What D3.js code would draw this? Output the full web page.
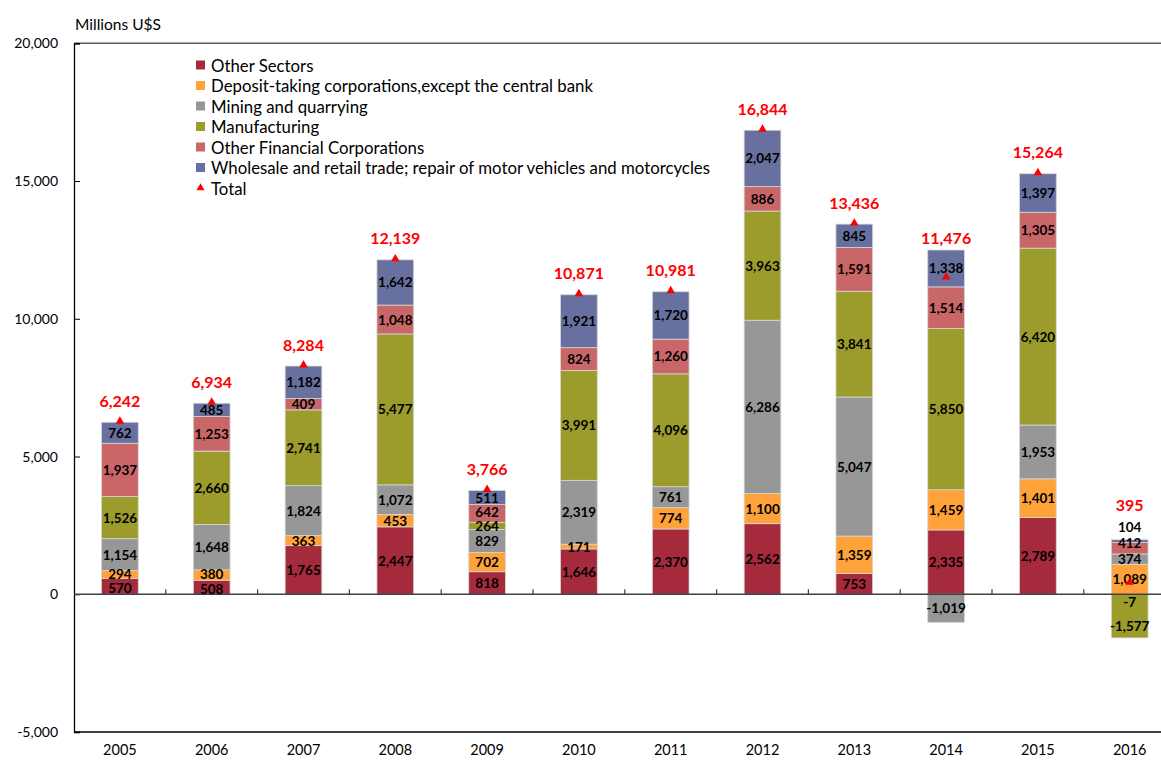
<!DOCTYPE html>
<html>
<head>
<meta charset="utf-8">
<script src="https://cdn.jsdelivr.net/npm/d3@7"></script>
<style>
  html, body { margin: 0; padding: 0; background: #fff; }
  svg { display: block; font-family: Lato, "Open Sans", sans-serif; }
</style>
</head>
<body>
<svg id="chart" width="1161" height="760"></svg>
<script>
// ---------------- DATA ----------------
const years = ["2005","2006","2007","2008","2009","2010","2011","2012","2013","2014","2015","2016"];
const seriesNames = [
  "Other Sectors",
  "Deposit-taking corporations,except the central bank",
  "Mining and quarrying",
  "Manufacturing",
  "Other Financial Corporations",
  "Wholesale and retail trade; repair of motor vehicles and motorcycles"
];
const otherSectors   = [570, 508, 1765, 2447, 818, 1646, 2370, 2562, 753, 2335, 2789, -7];
const depositTaking  = [294, 380, 363, 453, 702, 171, 774, 1100, 1359, 1459, 1401, 1089];
const mining         = [1154, 1648, 1824, 1072, 829, 2319, 761, 6286, 5047, -1019, 1953, 374];
const manufacturing  = [1526, 2660, 2741, 5477, 264, 3991, 4096, 3963, 3841, 5850, 6420, -1577];
const otherFinancial = [1937, 1253, 409, 1048, 642, 824, 1260, 886, 1591, 1514, 1305, 412];
const wholesale      = [762, 485, 1182, 1642, 511, 1921, 1720, 2047, 845, 1338, 1397, 104];
const totals         = [6242, 6934, 8284, 12139, 3766, 10871, 10981, 16844, 13436, 11476, 15264, 395];
const yTicks         = [-5000, 0, 5000, 10000, 15000, 20000];
const totalName = "Total";

(function () {
// ---------------- STYLE ----------------
const colors = ["#A52B3C", "#FFA23A", "#979797", "#9C9C2C", "#C96768", "#67709F"];
// manual label nudges (pixels) to avoid overlaps, as in the original
const labelNudge = { "2016|5": -14, "2016|4": -5, "2016|0": 8, "2016|3": 10,
                     "2005|0": 1.5, "2005|1": -1, "2006|0": 1.5, "2006|1": -1, "2009|4": -1.5, "2009|3": 0.5 };
const totalNudge = { "2016": -22 };

const seriesArrays = [otherSectors, depositTaking, mining, manufacturing, otherFinancial, wholesale];
const rows = years.map((yr, i) => {
  const r = { year: yr };
  seriesArrays.forEach((arr, k) => r[k] = arr[i]);
  return r;
});

const svg = d3.select("#chart");
const pLeft = 74, pRight = 1175.6, pTop = 43.3, pBottom = 732;

const x = d3.scaleBand().domain(years).range([pLeft, pRight]).paddingInner(0.6).paddingOuter(0.3);
const y = d3.scaleLinear().domain([-5000, 20000]).range([pBottom, pTop]);

const stack = d3.stack().keys(d3.range(6)).offset(d3.stackOffsetDiverging);
const stacked = stack(rows);

const locale = d3.formatLocale({ decimal: ".", thousands: ",", grouping: [3], currency: ["$", ""], minus: "-" });
const fmt = locale.format(",");

// frame top line
svg.append("line").attr("x1", pLeft).attr("x2", 1161).attr("y1", pTop).attr("y2", pTop)
  .attr("stroke", "#595959").attr("stroke-width", 1.5);

// bars
const gBars = svg.append("g");
stacked.forEach((layer, k) => {
  gBars.selectAll(null).data(layer).enter().append("rect")
    .attr("x", d => x(d.data.year))
    .attr("width", x.bandwidth())
    .attr("y", d => y(Math.max(d[0], d[1])))
    .attr("height", d => Math.abs(y(d[0]) - y(d[1])))
    .attr("fill", colors[k])
    .attr("stroke", "#d6d6d6").attr("stroke-width", 0.8);
});

// y axis
const yAxis = d3.axisLeft(y).tickValues(yTicks).tickSize(-6).tickPadding(16).tickFormat(fmt);
const gy = svg.append("g").attr("transform", `translate(${pLeft},0)`).call(yAxis);
gy.select(".domain").attr("stroke", "#000").attr("stroke-width", 1.3);
gy.selectAll(".tick line").attr("stroke", "#000");
gy.selectAll(".tick text").attr("font-size", 14).attr("fill", "#000")
  .attr("font-family", "Lato, sans-serif").attr("x", -16);

// zero line
svg.append("line").attr("x1", pLeft).attr("x2", 1161).attr("y1", y(0)).attr("y2", y(0))
  .attr("stroke", "#404040").attr("stroke-width", 1.3);
// category boundary ticks on the zero line
const step = x.step();
d3.range(1, years.length).forEach(i => {
  const bx = pLeft + i * step;
  svg.append("line").attr("x1", bx).attr("x2", bx).attr("y1", y(0)).attr("y2", y(0) - 5)
    .attr("stroke", "#404040").attr("stroke-width", 1.2);
});

// bottom axis line and labels
const xAxis = d3.axisBottom(x).tickSize(0).tickPadding(13);
const gx = svg.append("g").attr("transform", `translate(0,${pBottom})`).call(xAxis);
gx.select(".domain").attr("stroke", "#000").attr("stroke-width", 1.5).attr("d", `M${pLeft},0H1161`);
gx.selectAll(".tick text").attr("font-size", 14.5).attr("fill", "#000").attr("font-family", "Lato, sans-serif");

// segment labels
const gLab = svg.append("g");
stacked.forEach((layer, k) => {
  layer.forEach(d => {
    const v = d.data[k];
    const key = d.data.year + "|" + k;
    const cy = y((d[0] + d[1]) / 2) + (labelNudge[key] || 0);
    gLab.append("text")
      .attr("x", x(d.data.year) + x.bandwidth() / 2)
      .attr("y", cy)
      .attr("text-anchor", "middle").attr("dominant-baseline", "central")
      .attr("font-size", 13.5).attr("font-weight", "bold").attr("fill", "#000")
      .text(fmt(v));
  });
});

// totals: triangles + labels
const posTop = rows.map((r, i) => d3.sum(seriesArrays, a => Math.max(0, a[i])));
const tri = d3.symbol().type(d3.symbolTriangle).size(32);
years.forEach((yr, i) => {
  const cx = x(yr) + x.bandwidth() / 2;
  svg.append("path").attr("d", tri).attr("fill", "#FF0000")
    .attr("transform", `translate(${cx},${y(totals[i]) - 1})`);
  const ly = Math.min(y(totals[i]) - 22, y(posTop[i]) - 13) + (totalNudge[yr] || 0);
  svg.append("text").attr("x", cx).attr("y", ly)
    .attr("text-anchor", "middle").attr("dominant-baseline", "central")
    .attr("font-size", 16).attr("font-weight", "bold").attr("fill", "#FF0000")
    .text(fmt(totals[i]));
});

// unit label
svg.append("text").attr("x", 75).attr("y", 24).attr("dominant-baseline", "central")
  .attr("font-size", 15.5).attr("fill", "#000").text("Millions U$S");

// legend
const lg = svg.append("g");
const legendItems = seriesNames.map((n, k) => ({ name: n, color: colors[k], type: "rect" }))
  .concat([{ name: totalName, color: "#FF0000", type: "tri" }]);
legendItems.forEach((it, i) => {
  const ly = 65 + i * 20.5;
  if (it.type === "rect") {
    lg.append("rect").attr("x", 196).attr("y", ly - 4.5).attr("width", 9).attr("height", 9).attr("fill", it.color);
  } else {
    lg.append("path").attr("d", d3.symbol().type(d3.symbolTriangle).size(28))
      .attr("transform", `translate(200.5,${ly})`).attr("fill", it.color);
  }
  lg.append("text").attr("x", 211).attr("y", ly).attr("dominant-baseline", "central")
    .attr("font-size", 16.8).attr("fill", "#000").text(it.name);
});
})();
</script>
</body>
</html>
